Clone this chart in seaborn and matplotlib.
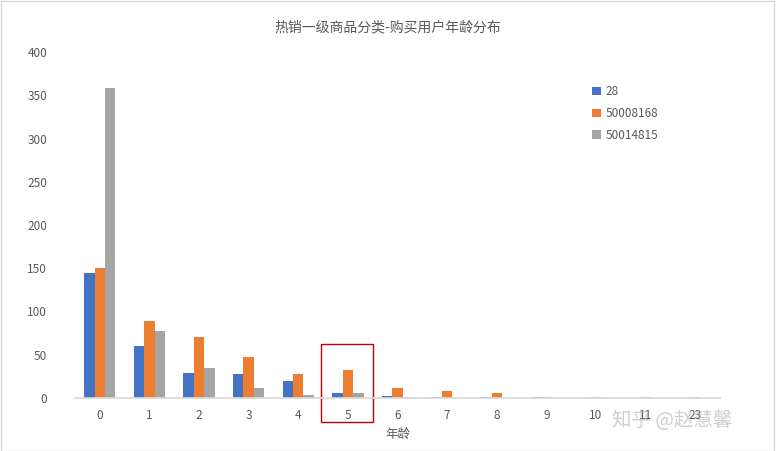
import matplotlib
matplotlib.use("Agg")
import matplotlib.pyplot as plt
import seaborn as sns
import pandas as pd
from matplotlib.patches import Rectangle

ages = ["0", "1", "2", "3", "4", "5", "6", "7", "8", "9", "10", "11", "23"]
s28 = [145, 60, 29, 28, 20, 6, 2, 1, 1, 1, 0.3, 0, 0]
s50008168 = [150, 89, 70, 47, 28, 32, 12, 8, 6, 1, 1, 1, 1]
s50014815 = [358, 77, 35, 12, 4, 6, 1, 0, 0, 0, 0.5, 0, 0]
series_names = ["28", "50008168", "50014815"]
colors = ["#4472C4", "#ED7D31", "#A5A5A5"]

rows = []
for name, vals in zip(series_names, [s28, s50008168, s50014815]):
    for a, v in zip(ages, vals):
        rows.append({"age": a, "series": name, "value": v})
df = pd.DataFrame(rows)

sns.set_theme(style="white")
plt.rcParams['font.family'] = ['Noto Sans CJK SC', 'DejaVu Sans']

fig = plt.figure(figsize=(7.76, 4.51), dpi=100)
ax = fig.add_axes([75/776, 1-398/451, 645/776, 346/451])
sns.barplot(data=df, x="age", y="value", hue="series", order=ages,
            hue_order=series_names, palette=colors, width=0.63,
            saturation=1, linewidth=0, ax=ax, legend=True)

ax.set_ylim(0, 400)
ax.set_xlim(-0.5, 12.5)
ax.set_yticks(range(0, 401, 50))
for sp in ["top", "right", "left"]:
    ax.spines[sp].set_visible(False)
ax.spines["bottom"].set_color("#D9D9D9")
ax.tick_params(axis="both", colors="#595959", labelsize=8.5, length=0, pad=8)
ax.tick_params(axis="y", pad=20)
ax.set_ylabel("")
ax.set_xlabel("年龄", color="#595959", fontsize=9, labelpad=4)

leg = ax.legend(loc="upper left", bbox_to_anchor=(0.785, 0.935), frameon=False,
                fontsize=8.5, handlelength=0.75, handleheight=0.75,
                handletextpad=0.4, labelspacing=0.75)
for t in leg.get_texts():
    t.set_color("#595959")

fig.suptitle("热销一级商品分类-购买用户年龄分布", y=1-20/451, fontsize=10,
             color="#595959")

rect = Rectangle((4.455, -27.7), 1.05, 90, fill=False, edgecolor="#C00000",
                 linewidth=1, clip_on=False)
ax.add_patch(rect)

fig.text(612/776, 1-420/451, "知乎 @赵慧馨", fontsize=14, color="#A8A8A8",
         alpha=0.55, ha="left", va="center")

border = Rectangle((0.001, 0.001), 0.997, 0.996, transform=fig.transFigure,
                   fill=False, edgecolor="#D9D9D9", linewidth=1)
fig.patches.append(border)

fig.savefig("out.png", dpi=100)
